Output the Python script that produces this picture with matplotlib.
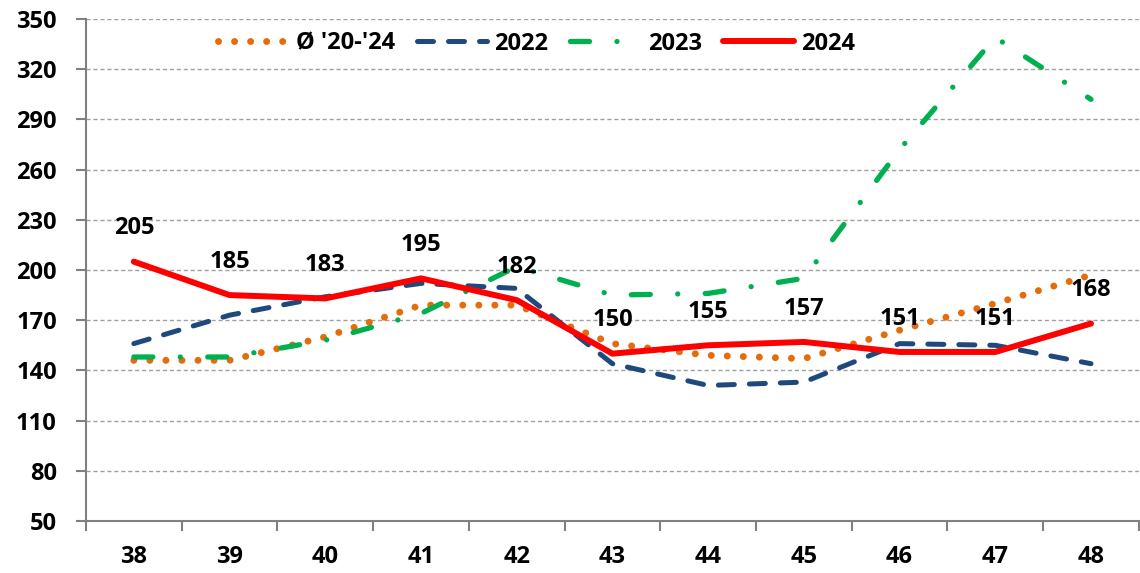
import numpy as np
import matplotlib.pyplot as plt

plt.rcParams['font.family'] = ['Open Sans', 'DejaVu Sans']
plt.rcParams['font.weight'] = 'bold'

weeks = ['38', '39', '40', '41', '42', '43', '44', '45', '46', '47', '48']
avg_20_24 = [146, 146, 160, 179, 179, 156, 149, 147, 164, 180, 197]
y2022 = [156, 173, 184, 192, 189, 144, 131, 133, 156, 155, 144]
y2023 = [148, 148, 158, 174, 202, 185, 186, 195, 272, 339, 302]
y2024 = [205, 185, 183, 195, 182, 150, 155, 157, 151, 151, 168]

fig = plt.figure(figsize=(11.4, 5.73), dpi=100)
ax = fig.add_axes([0.0754, 0.0908, 0.9236, 0.876])

x = np.arange(len(weeks))
ax.plot(x, avg_20_24, color='#E46C0A', lw=5, linestyle=(0, (0.01, 2.3)),
        dash_capstyle='round', label="Ø '20-'24", zorder=3)
ax.plot(x, y2022, color='#1F497D', lw=3.6, linestyle=(0, (3.2, 3.0)),
        dash_capstyle='round', label='2022', zorder=3)
ax.plot(x, y2023, color='#00B050', lw=3.8, linestyle=(0, (3.6, 5.2, 0.01, 5.2)),
        dash_capstyle='round', label='2023', zorder=3)
ax.plot(x, y2024, color='#FF0000', lw=4.3, label='2024', zorder=4,
        solid_capstyle='round')

for xi, v in zip(x, y2024):
    ax.annotate(str(v), (xi, v), xytext=(0, 24), textcoords='offset points',
                ha='center', va='center', fontsize=17, fontweight='bold')

ax.set_xlim(-0.5, len(weeks) - 0.5)
ax.set_ylim(50, 350)
ax.set_yticks(np.arange(50, 351, 30))
ax.set_xticks(x)
ax.set_xticklabels(weeks)
ax.set_xticks(np.arange(-0.5, len(weeks), 1), minor=True)
ax.tick_params(axis='x', which='major', length=0, pad=17, labelsize=17)
ax.tick_params(axis='x', which='minor', length=7, color='#808080', width=1.5)
ax.tick_params(axis='y', length=7, color='#808080', width=1.5, labelsize=17, pad=14)

ax.grid(axis='y', color='#A0A0A0', linestyle=(0, (3, 2)), lw=1)
ax.set_axisbelow(True)
for s in ['top', 'right']:
    ax.spines[s].set_visible(False)
for s in ['left', 'bottom']:
    ax.spines[s].set_color('#808080')
    ax.spines[s].set_linewidth(1.5)

ax.legend(loc='center', bbox_to_anchor=(0.428, 0.951), ncol=4, frameon=False,
          fontsize=17, handlelength=3.0, columnspacing=0.9, handletextpad=0.3)

fig.savefig('out.png', dpi=100)
